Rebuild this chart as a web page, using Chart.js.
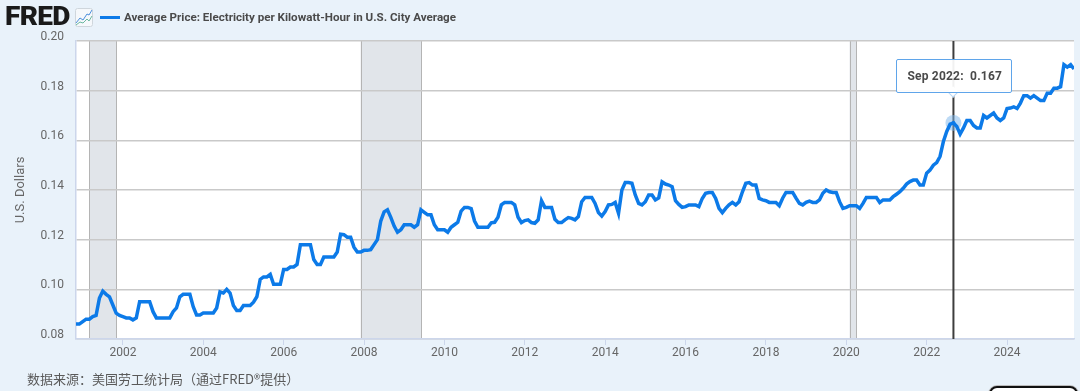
<!DOCTYPE html>
<html><head><meta charset="utf-8">
<script src="https://cdn.jsdelivr.net/npm/chart.js@4"></script>
<style>
html,body{margin:0;padding:0;width:1080px;height:391px;overflow:hidden;background:#e9f2fa;font-family:Roboto,sans-serif}
canvas{position:absolute;left:0;top:0}
.abs{position:absolute;white-space:nowrap}
#logo{left:5px;top:2px;font:900 25px/30px Roboto,sans-serif;color:#1a1a1a;letter-spacing:-.6px;transform:scaleX(1.12);transform-origin:left center}
#legline{left:100px;top:15.5px;width:20px;height:3px;background:#0c7ae8}
#legtext{left:124px;top:9px;font:700 11.6px/16px Roboto,sans-serif;color:#4a4a4a}
#source{left:27px;top:370px;font:13px/18px "Noto Sans CJK SC",sans-serif;color:#5a5a5a}
#tip{width:114px;height:32px;background:rgba(255,255,255,.93);border:1px solid #5fa5ea;border-radius:2px;font:700 12px/32px Roboto,sans-serif;letter-spacing:.2px;color:#4a4a4a;text-align:left;text-indent:10px}
#arrow{width:7px;height:7px;background:#fff;border-right:1px solid #b9d6f3;border-bottom:1px solid #b9d6f3;transform:rotate(45deg)}
#corner{left:989px;top:386px;width:85px;height:14px;border:2px solid #111;border-radius:8px;box-shadow:0 0 0 1px #bbb;background:#fff}
</style></head><body>
<canvas id="c" width="1080" height="391"></canvas>
<div class="abs" id="logo">FRED</div>
<svg class="abs" style="left:75px;top:8px" width="18" height="19" viewBox="0 0 18 19">
<rect x=".5" y=".5" width="17" height="18" rx="2" fill="#f5f8fb" stroke="#cfd6dc"/>
<polyline points="1,15 5,10 8,12 12,6 14,7 17,2" fill="none" stroke="#4c8fdc" stroke-width="1"/>
<polyline points="1,17 5,14 8,15 12,11 14,13 17,8" fill="none" stroke="#6cb8a0" stroke-width="1"/>
</svg>
<div class="abs" id="legline"></div>
<div class="abs" id="legtext">Average Price: Electricity per Kilowatt-Hour in U.S. City Average</div>
<div class="abs" id="source">数据来源：美国劳工统计局（通过FRED®提供）</div>
<div class="abs" id="arrow"></div>
<div class="abs" id="tip">Sep 2022:&nbsp; 0.167</div>
<div class="abs" id="corner"></div>
<script>
// Monthly values; first value is Nov 2000, last is Sep 2025
const startYear = 2000, startMonth = 11;
const priceValues = [
 .086,.086,
 .087,.088,.088,.089,.0895,.0965,.0993,.098,.097,.0937,.0904,.0895,
 .089,.0885,.0885,.0877,.0885,.095,.095,.095,.095,.091,.0885,.0885,
 .0885,.0885,.0885,.091,.0925,.097,.098,.098,.098,.093,.0897,.0897,
 .0905,.0905,.0905,.0905,.0925,.099,.0985,.1,.0985,.0935,.0915,.0915,
 .0935,.0935,.0935,.0948,.097,.104,.105,.105,.106,.102,.102,.102,
 .108,.108,.109,.109,.11,.118,.118,.118,.118,.112,.11,.11,
 .113,.113,.113,.113,.115,.1222,.122,.121,.121,.117,.115,.115,
 .1157,.1157,.116,.118,.12,.1275,.1312,.132,.129,.1255,.123,.124,
 .126,.126,.126,.125,.126,.132,.131,.13,.13,.126,.124,.124,
 .124,.123,.125,.126,.127,.1315,.133,.133,.1325,.1275,.125,.125,
 .125,.125,.1268,.127,.129,.134,.135,.135,.135,.134,.129,.1269,
 .1277,.128,.1269,.1266,.128,.1357,.133,.133,.133,.1282,.1269,.1269,
 .128,.1289,.1286,.128,.1293,.1353,.137,.137,.137,.1346,.1309,.1295,
 .1313,.134,.1342,.135,.1306,.14,.143,.143,.1427,.138,.1346,.134,
 .1353,.138,.138,.136,.1368,.1433,.1424,.142,.1413,.1357,.1342,.133,
 .1333,.134,.134,.134,.1333,.1366,.1387,.139,.139,.1366,.1326,.1309,
 .1326,.134,.135,.134,.1353,.1393,.1427,.143,.142,.142,.1366,.136,
 .1357,.135,.135,.135,.1337,.1367,.139,.139,.139,.1367,.1346,.134,
 .135,.1355,.135,.135,.136,.1387,.14,.1393,.139,.139,.1353,.1326,
 .133,.1337,.1337,.1337,.1326,.1346,.137,.137,.137,.137,.135,.136,
 .136,.136,.1373,.1383,.1393,.1407,.1424,.1434,.144,.144,.142,.142,
 .1468,.148,.15,.151,.1535,.1595,.1636,.1665,.167,.1656,.1625,.165,
 .168,.168,.166,.165,.165,.17,.169,.17,.171,.169,.168,.169,
 .1728,.173,.1735,.1728,.175,.178,.178,.177,.178,.177,.176,.176,
 .179,.179,.181,.181,.1816,.1905,.1895,.1905,.1887
];
const tickYears = [2002,2004,2006,2008,2010,2012,2014,2016,2018,2020,2022,2024];
const yTicks = [0.08,0.10,0.12,0.14,0.16,0.18,0.20];
// Recessions as [startYear, startMonth, endYear, endMonth]
const recessions = [[2001,3,2001,11],[2007,12,2009,6],[2020,2,2020,4]];
const hoverPoint = {year:2022, month:9, value:0.167};
const seriesName = 'Average Price: Electricity per Kilowatt-Hour in U.S. City Average';

const monthIndex = (y,m) => (y-startYear)*12 + (m-startMonth);
const hoverX = monthIndex(hoverPoint.year, hoverPoint.month);
const hoverData = [{x:hoverX, y:hoverPoint.value}];

const backdrop = {
  id:'backdrop',
  beforeDraw(chart){
    const {ctx, chartArea:a, scales:{x}} = chart;
    ctx.save();
    ctx.fillStyle='#fff';
    ctx.fillRect(a.left,a.top,a.right-a.left,a.bottom-a.top);
    recessions.forEach(r=>{
      const x0=x.getPixelForValue(monthIndex(r[0],r[1])), x1=x.getPixelForValue(monthIndex(r[2],r[3]));
      ctx.fillStyle='#e1e5ea';
      ctx.fillRect(x0,a.top,x1-x0,a.bottom-a.top);
      ctx.strokeStyle='#b4b4b4'; ctx.lineWidth=1;
      [x0,x1].forEach(p=>{ctx.beginPath();ctx.moveTo(Math.round(p)+.5,a.top);ctx.lineTo(Math.round(p)+.5,a.bottom);ctx.stroke();});
    });
    ctx.restore();
  }
};
const crosshair = {
  id:'crosshair',
  beforeDatasetsDraw(chart){
    const {ctx, chartArea:a, scales:{x}} = chart;
    const p=x.getPixelForValue(hoverX);
    ctx.save(); ctx.strokeStyle='#3d3d3d'; ctx.lineWidth=2;
    ctx.beginPath(); ctx.moveTo(p,a.top); ctx.lineTo(p,a.bottom); ctx.stroke(); ctx.restore();
  }
};
const chart = new Chart(document.getElementById('c'),{
  type:'line',
  data:{datasets:[
    {label:'hover dot',data:hoverData,pointRadius:2,pointBackgroundColor:'#0c7ae8',pointBorderWidth:0,showLine:false,order:0},
    {label:seriesName,data:priceValues.map((v,i)=>({x:i,y:v})),borderColor:'#0c7ae8',borderWidth:3.5,pointRadius:0,tension:0,borderJoinStyle:'miter',order:1},
    {label:'hover halo',data:hoverData,pointRadius:8,pointBackgroundColor:'rgba(124,181,236,.5)',pointBorderWidth:0,showLine:false,order:2}
  ]},
  options:{
    responsive:false,animation:false,events:[],
    layout:{autoPadding:false,padding:{top:41,right:6,left:0,bottom:0}},
    plugins:{legend:{display:false},tooltip:{enabled:false}},
    scales:{
      x:{type:'linear',min:0,max:priceValues.length-1,
        afterBuildTicks(s){s.ticks=tickYears.map(y=>({value:monthIndex(y,1)}));},
        afterFit(s){s.height=52;s.paddingLeft=0;s.paddingRight=0;},
        grid:{drawOnChartArea:false,drawTicks:true,tickLength:6,color:'#ccd6eb',lineWidth:1},
        border:{color:'#ccd6eb',width:1.5},
        ticks:{autoSkip:false,maxRotation:0,padding:1,color:'#666',font:{family:'Roboto',size:12},
          callback(v){return startYear+Math.round((v+startMonth-1)/12);}}
      },
      y:{min:0.08,max:0.20,
        afterBuildTicks(s){s.ticks=yTicks.map(v=>({value:v}));},
        afterFit(s){s.width=76;},
        grid:{color:'#c9c9c9',lineWidth:1.5,drawTicks:false},
        border:{color:'#ccd6eb',width:1.5},
        ticks:{padding:12,labelOffset:-4,color:'#666',font:{family:'Roboto',size:12},callback(v){return v.toFixed(2);}},
        title:{display:true,text:'U.S. Dollars',color:'#666',font:{family:'Roboto',size:13},padding:{top:13,bottom:0}}
      }
    }
  },
  plugins:[backdrop,crosshair]
});
// Tooltip box placed from the chart's own scales
const px = chart.scales.x.getPixelForValue(hoverX);
const tip = document.getElementById('tip'), arrow = document.getElementById('arrow');
tip.style.left=(px-57)+'px'; tip.style.top='59px';
arrow.style.left=(px-4)+'px'; arrow.style.top='88px';
</script>
</body></html>
